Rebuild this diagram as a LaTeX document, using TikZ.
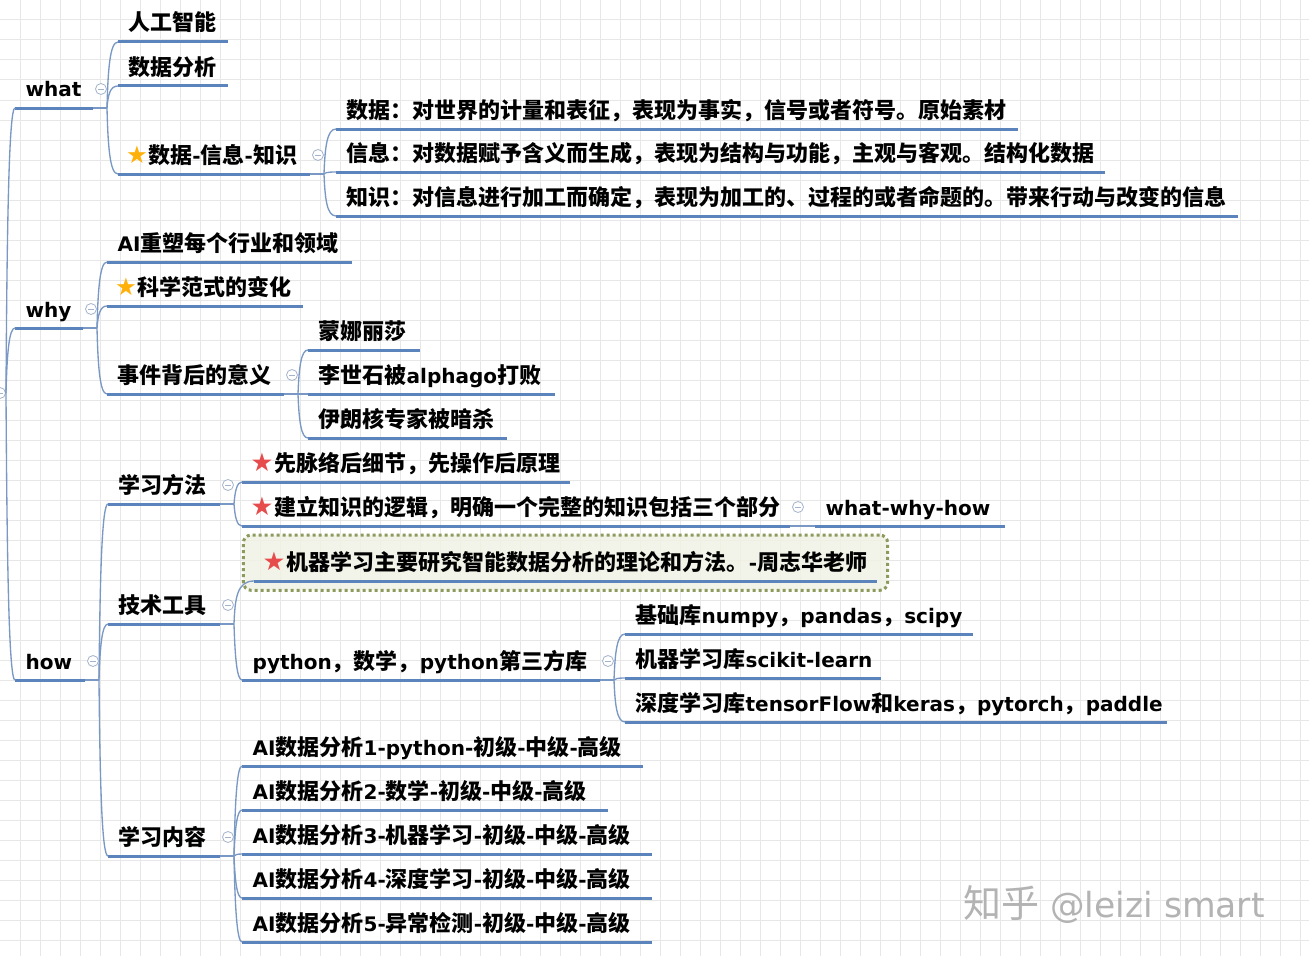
\documentclass[tikz,border=0pt]{standalone}
\usepackage{fontspec}
\setmainfont{DejaVu Sans}[Scale=0.91]
\newfontfamily\latinfont{DejaVu Sans}[Scale=0.91]
\newfontfamily\cjkfont{Noto Sans CJK SC}
\usetikzlibrary{positioning, calc, fit, backgrounds}

% chinese runs switch to the cjk font, latin runs back
\XeTeXinterchartokenstate=1
\newXeTeXintercharclass\cjkclass
\newcount\cjkidx
\cjkidx="2E80
\loop\XeTeXcharclass\cjkidx=\cjkclass \advance\cjkidx by 1 \ifnum\cjkidx<"A000 \repeat
\cjkidx="FF00
\loop\XeTeXcharclass\cjkidx=\cjkclass \advance\cjkidx by 1 \ifnum\cjkidx<"FFF0 \repeat
\XeTeXinterchartoks 0 \cjkclass = {\cjkfont}
\XeTeXinterchartoks 4095 \cjkclass = {\cjkfont}
\XeTeXinterchartoks \cjkclass 0 = {\latinfont}
\XeTeXinterchartoks \cjkclass 4095 = {\latinfont}
\hyphenpenalty=10000 \exhyphenpenalty=10000

\definecolor{ulblue}{HTML}{5B84BD}
\definecolor{linkblue}{HTML}{7A98C4}
\definecolor{foldgray}{HTML}{A3B3CC}
\definecolor{gridgray}{HTML}{E7E7E7}
\definecolor{staryellow}{HTML}{FFB10A}
\definecolor{starred}{HTML}{E74C4C}
\definecolor{boxolive}{HTML}{8C9A5E}
\definecolor{boxfill}{HTML}{F1F2E4}
\definecolor{wmgray}{HTML}{B3B3B3}

\newcommand\topicfont{\fontsize{16.5pt}{20pt}\selectfont\bfseries}
\newcommand\ystar{\kern-2pt{\fontsize{20pt}{20pt}\selectfont\color{staryellow}\raisebox{-0.5pt}{★}}\kern0.5pt}
\newcommand\rstar{\kern-1.5pt{\fontsize{21pt}{20pt}\selectfont\color{starred}\raisebox{-0.5pt}{★}}\kern1pt}

\begin{document}
\begin{tikzpicture}[x=0.75pt, y=-0.75pt,
    topic/.style={anchor=south west, inner xsep=8pt, inner ysep=5.25pt, outer sep=0pt,
      text height=14pt, text depth=3pt, text width={0.75*#1-16}, align=left, font=\topicfont},
    uline/.style={draw=ulblue, line width=2.25pt},
    link/.style={draw=linkblue, line width=1pt},
    branch/.style={to path={.. controls ($(\tikztostart)!0.6!(\tikztostart|-\tikztotarget)+(1,0)$)
      and ($(\tikztostart|-\tikztotarget)+(3,0)$) .. (\tikztotarget)}},
    foldbtn/.style={circle, draw=foldgray, fill=white, line width=0.6pt, minimum size=8.25pt, inner sep=0pt,
      path picture={\draw[foldgray, line width=0.6pt] ([xshift=-2.2pt]path picture bounding box.center)
        -- ([xshift=2.2pt]path picture bounding box.center);}},
    notebox/.style={draw=boxolive, fill=boxfill, fill opacity=0.8, line width=2.25pt,
      dash pattern=on 2.25pt off 2.25pt, rounded corners=6pt, inner xsep=8pt, inner ysep=7pt},
    gridline/.style={draw=gridgray, line width=0.75pt}]
  \useasboundingbox (0,0) rectangle (1309,956);

  % first level
  \node[topic=78] (what) at (15,108) {what};
  \node[topic=68] (why) at (15,328) {why};
  \node[topic=70] (how) at (15,680) {how};

  % what
  \node[topic=110] (ai) at (118,42) {人工智能};
  \node[topic=110] (da) at (118,86) {数据分析};
  \node[topic=192] (dik) at (118,174) {\ystar 数据-信息-知识};
  \node[topic=682] (dik1) at (336,129) {数据：对世界的计量和表征，表现为事实，信号或者符号。原始素材};
  \node[topic=769] (dik2) at (336,172) {信息：对数据赋予含义而生成，表现为结构与功能，主观与客观。结构化数据};
  \node[topic=902] (dik3) at (336,216) {知识：对信息进行加工而确定，表现为加工的、过程的或者命题的。带来行动与改变的信息};

  % why
  \node[topic=245] (reshape) at (107,262) {AI重塑每个行业和领域};
  \node[topic=196] (paradigm) at (107,306) {\ystar 科学范式的变化};
  \node[topic=177] (event) at (107,394) {事件背后的意义};
  \node[topic=112] (mona) at (308,350) {蒙娜丽莎};
  \node[topic=247] (lee) at (308,394) {李世石被alphago打败};
  \node[topic=199] (iran) at (308,438) {伊朗核专家被暗杀};

  % how
  \node[topic=112] (method) at (108,504) {学习方法};
  \node[topic=328] (outline) at (242,482) {\rstar 先脉络后细节，先操作后原理};
  \node[topic=548] (logic) at (242,526) {\rstar 建立知识的逻辑，明确一个完整的知识包括三个部分};
  \node[topic=190] (www) at (815,526) {what-why-how};
  \node[topic=112] (tools) at (108,624) {技术工具};
  \node[topic=623] (ml) at (254,581) {\rstar 机器学习主要研究智能数据分析的理论和方法。-周志华老师};
  \node[topic=358] (py) at (242,680) {python，数学，python第三方库};
  \node[topic=348] (lib1) at (625,634) {基础库numpy，pandas，scipy};
  \node[topic=256] (lib2) at (625,678) {机器学习库scikit-learn};
  \node[topic=542] (lib3) at (625,722) {深度学习库tensorFlow和keras，pytorch，paddle};
  \node[topic=112] (content) at (108,856) {学习内容};
  \node[topic=401] (c1) at (242,766) {AI数据分析1-python-初级-中级-高级};
  \node[topic=366] (c2) at (242,810) {AI数据分析2-数学-初级-中级-高级};
  \node[topic=410] (c3) at (242,854) {AI数据分析3-机器学习-初级-中级-高级};
  \node[topic=410] (c4) at (242,898) {AI数据分析4-深度学习-初级-中级-高级};
  \node[topic=410] (c5) at (242,942) {AI数据分析5-异常检测-初级-中级-高级};

  \begin{scope}[on background layer]
    \fill[white] (0,0) rectangle (1309,956);
    \foreach \x in {20,40,...,1300} \draw[gridline] (\x,0) -- (\x,956);
    \foreach \y in {20,40,...,940} \draw[gridline] (0,\y) -- (1309,\y);
    \node[notebox, fit=(ml)] (mlbox) {};
  \end{scope}

  \foreach \n in {what,why,how,ai,da,dik,dik1,dik2,dik3,reshape,paradigm,event,mona,lee,iran,
      method,outline,logic,www,tools,ml,py,lib1,lib2,lib3,content,c1,c2,c3,c4,c5}
    \draw[uline] (\n.south west) -- (\n.south east);

  % connectors
  \coordinate (root-j) at (6,393);
  \node[foldbtn] (root-f) at (0,393) {};
  \foreach \c in {what,why,how} \draw[link] (root-j) to[branch] (\c.south west);

  \foreach \p/\kids in {what/{ai,da,dik}, why/{reshape,paradigm,event}, how/{method,tools,content},
      dik/{dik1,dik2,dik3}, event/{mona,lee,iran}, method/{outline,logic}, logic/{www},
      tools/{ml,py}, py/{lib1,lib2,lib3}, content/{c1,c2,c3,c4,c5}} {
    \draw[link] (\p.south east) -- ++(14,0) coordinate (\p-j);
    \foreach \c in \kids \draw[link] (\p-j) to[branch] (\c.south west);
    \node[foldbtn] (\p-f) at ($(\p.south east)+(8,-19)$) {};
  }

  \node[anchor=base west, text=wmgray, inner sep=0pt, font=\fontsize{28.5pt}{30pt}\selectfont] (wm)
    at (963,917) {知乎 @leizi smart};
\end{tikzpicture}
\end{document}
